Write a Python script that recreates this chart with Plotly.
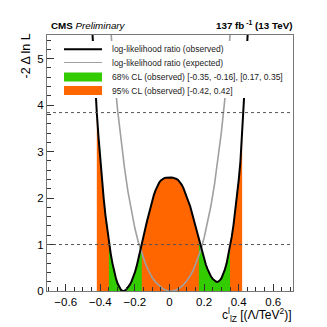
import numpy as np
import plotly.graph_objects as go

# ---- data ----
obs_x = [-0.46, -0.45, -0.44, -0.43, -0.42, -0.41, -0.40, -0.39, -0.38, -0.37,
         -0.36, -0.35, -0.34, -0.33, -0.32, -0.31, -0.30, -0.29, -0.28, -0.27,
         -0.26, -0.25, -0.24, -0.23, -0.22, -0.21, -0.20, -0.19, -0.18, -0.17,
         -0.16, -0.15, -0.14, -0.13, -0.12, -0.11, -0.10, -0.09, -0.08, -0.07,
         -0.06, -0.05, -0.04, -0.03, -0.02, -0.01, 0.00, 0.01, 0.02, 0.03,
         0.04, 0.05, 0.06, 0.07, 0.08, 0.09, 0.10, 0.11, 0.12, 0.13,
         0.14, 0.15, 0.16, 0.17, 0.18, 0.19, 0.20, 0.21, 0.22, 0.23,
         0.24, 0.25, 0.26, 0.27, 0.28, 0.29, 0.30, 0.31, 0.32, 0.33,
         0.34, 0.35, 0.36, 0.37, 0.38, 0.39, 0.40, 0.41, 0.42, 0.43,
         0.44, 0.45, 0.46]
obs_y = [6.55, 5.80, 5.10, 4.43, 3.83, 3.30, 2.80, 2.37, 1.98, 1.63,
         1.32, 1.05, 0.81, 0.60, 0.42, 0.28, 0.16, 0.075, 0.022, 0.0,
         0.006, 0.03, 0.07, 0.13, 0.20, 0.29, 0.40, 0.53, 0.68, 0.84,
         1.00, 1.17, 1.34, 1.50, 1.66, 1.81, 1.95, 2.07, 2.17, 2.26,
         2.33, 2.38, 2.41, 2.43, 2.44, 2.445, 2.445, 2.445, 2.44, 2.43,
         2.41, 2.39, 2.35, 2.29, 2.22, 2.13, 2.03, 1.94, 1.82, 1.68,
         1.54, 1.40, 1.25, 1.10, 0.95, 0.82, 0.69, 0.57, 0.47, 0.38,
         0.31, 0.26, 0.22, 0.20, 0.20, 0.225, 0.27, 0.35, 0.46, 0.59,
         0.76, 0.95, 1.17, 1.42, 1.70, 2.02, 2.38, 2.78, 3.35, 3.95,
         4.60, 5.30, 6.05]

exp_x = [-0.36, -0.35, -0.34, -0.33, -0.32, -0.30, -0.28, -0.26, -0.24, -0.22,
         -0.20, -0.18, -0.16, -0.14, -0.12, -0.10, -0.08, -0.06, -0.04, -0.02,
         0.00, 0.02, 0.04, 0.06, 0.08, 0.10, 0.12, 0.14, 0.16, 0.18,
         0.20, 0.22, 0.24, 0.26, 0.28, 0.30, 0.32, 0.33, 0.34, 0.35,
         0.36, 0.37]
exp_y = [6.63, 6.10, 5.60, 5.14, 4.69, 3.90, 3.23, 2.65, 2.14, 1.72,
         1.35, 1.05, 0.80, 0.60, 0.43, 0.29, 0.19, 0.11, 0.053, 0.017,
         0.001, 0.004, 0.026, 0.066, 0.13, 0.22, 0.33, 0.47, 0.65, 0.87,
         1.14, 1.46, 1.84, 2.29, 2.81, 3.42, 4.13, 4.53, 4.95, 5.41,
         5.90, 6.41]

cl68_intervals = [(-0.35, -0.16), (0.17, 0.35)]
cl95_intervals = [(-0.42, 0.42)]
ref_levels = [1.0, 3.84]

legend_labels = ["log-likelihood ratio (observed)",
                 "log-likelihood ratio (expected)",
                 "68% CL (observed) [-0.35, -0.16], [0.17, 0.35]",
                 "95% CL (observed) [-0.42, 0.42]"]

# ---- style ----
ORANGE = "#FF6600"
GREEN = "#33CC00"
FONT = "Liberation Sans, Arial, sans-serif"

W, H = 327, 327
ML, MR, MT, MB = 47, 34, 35, 36
PW, PH = W - ML - MR, H - MT - MB


def px(x):
    return (x - ML) / PW


def py(y):
    return (H - MB - y) / PH


ox = np.array(obs_x)
oy = np.array(obs_y)


def band(lo, hi):
    inner = (ox > lo) & (ox < hi)
    xs = np.concatenate([[lo], ox[inner], [hi]])
    ys = np.concatenate([[np.interp(lo, ox, oy)], oy[inner], [np.interp(hi, ox, oy)]])
    return xs, ys


fig = go.Figure()
for lo, hi in cl95_intervals:
    xs, ys = band(lo, hi)
    fig.add_trace(go.Scatter(x=xs, y=ys, mode="lines", line=dict(width=0, color=ORANGE),
                             fill="tozeroy", fillcolor=ORANGE, showlegend=False,
                             hoverinfo="skip"))
for lo, hi in cl68_intervals:
    xs, ys = band(lo, hi)
    fig.add_trace(go.Scatter(x=xs, y=ys, mode="lines", line=dict(width=0, color=GREEN),
                             fill="tozeroy", fillcolor=GREEN, showlegend=False,
                             hoverinfo="skip"))

fig.add_trace(go.Scatter(x=exp_x, y=exp_y, mode="lines", line=dict(color="#a0a0a0", width=1.6),
                         showlegend=False))
fig.add_trace(go.Scatter(x=obs_x, y=obs_y, mode="lines", line=dict(color="black", width=2),
                         showlegend=False))

shapes = []
for lv in ref_levels:
    shapes.append(dict(type="line", xref="paper", x0=0, x1=1, yref="y", y0=lv, y1=lv,
                       line=dict(color="#555555", width=1, dash="3px,3px"), layer="above"))

# manual legend with white background box
shapes.append(dict(type="rect", xref="paper", yref="paper", x0=px(56), x1=px(288),
                   y0=py(98), y1=py(41), fillcolor="white", line=dict(width=0), layer="above"))
rows_y = [49.3, 62.5, 77.0, 90.5]
sym_x0, sym_x1 = 64, 102
shapes.append(dict(type="line", xref="paper", yref="paper", x0=px(sym_x0), x1=px(sym_x1),
                   y0=py(rows_y[0]), y1=py(rows_y[0]), line=dict(color="black", width=2)))
shapes.append(dict(type="line", xref="paper", yref="paper", x0=px(sym_x0), x1=px(sym_x1),
                   y0=py(rows_y[1]), y1=py(rows_y[1]), line=dict(color="#a0a0a0", width=1.2)))
for ry, col in [(rows_y[2], GREEN), (rows_y[3], ORANGE)]:
    shapes.append(dict(type="rect", xref="paper", yref="paper", x0=px(sym_x0), x1=px(sym_x1),
                       y0=py(ry + 4.5), y1=py(ry - 4.5), fillcolor=col, line=dict(width=0)))

annotations = []
for ry, lab in zip(rows_y, legend_labels):
    annotations.append(dict(text=lab, xref="paper", yref="paper", x=px(110), y=py(ry),
                            xanchor="left", yanchor="middle", showarrow=False,
                            font=dict(family=FONT, size=8.5, color="#222222")))

annotations.append(dict(text="<b>CMS</b> <i>Preliminary</i>", xref="paper", yref="paper",
                        x=px(49), y=py(25), xanchor="left", yanchor="middle", showarrow=False,
                        font=dict(family=FONT, size=9.8, color="black")))
annotations.append(dict(text="<b>137 fb<sup> -1</sup> (13 TeV)</b>", xref="paper", yref="paper",
                        x=px(294), y=py(25), xanchor="right", yanchor="middle", showarrow=False,
                        font=dict(family=FONT, size=9.8, color="black")))
annotations.append(dict(text="-2 \u0394 ln L", xref="paper", yref="paper",
                        x=px(25), y=py(32), xanchor="center", yanchor="top", textangle=-90,
                        showarrow=False, font=dict(family=FONT, size=12.5, color="black")))
annotations.append(dict(text="c<sup>l</sup><sub>lZ</sub> [(\u039b/TeV<sup>2</sup>)]",
                        xref="paper", yref="paper",
                        x=px(294), y=py(315), xanchor="right", yanchor="middle",
                        showarrow=False, font=dict(family=FONT, size=12, color="black")))

axis_common = dict(showline=True, linecolor="#777777", linewidth=1, mirror=True,
                   ticks="inside", tickcolor="#333333", showgrid=False, zeroline=False,
                   tickfont=dict(family=FONT, size=11.5, color="black"))

fig.update_xaxes(range=[-0.708, 0.714], tickmode="array",
                 tickvals=[-0.6, -0.4, -0.2, 0, 0.2, 0.4, 0.6],
                 ticktext=["\u22120.6", "\u22120.4", "\u22120.2", "0", "0.2", "0.4", "0.6"],
                 ticklen=7, minor=dict(dtick=0.05, tick0=0, ticks="inside", ticklen=4,
                                       tickcolor="#333333", showgrid=False),
                 **axis_common)
fig.update_yaxes(range=[0, 5.51], tickmode="array", tickvals=[0, 1, 2, 3, 4, 5],
                 ticktext=["0", "1", "2", "3", "4", "5"],
                 ticklen=7, minor=dict(dtick=0.2, tick0=0, ticks="inside", ticklen=4,
                                       tickcolor="#333333", showgrid=False),
                 **axis_common)

fig.update_layout(width=W, height=H, margin=dict(l=ML, r=MR, t=MT, b=MB),
                  paper_bgcolor="white", plot_bgcolor="white", showlegend=False,
                  shapes=shapes, annotations=annotations)

fig.write_html("out.html", config={"displayModeBar": False},
               post_script="document.body.style.margin='0';document.body.style.overflow='hidden';")
